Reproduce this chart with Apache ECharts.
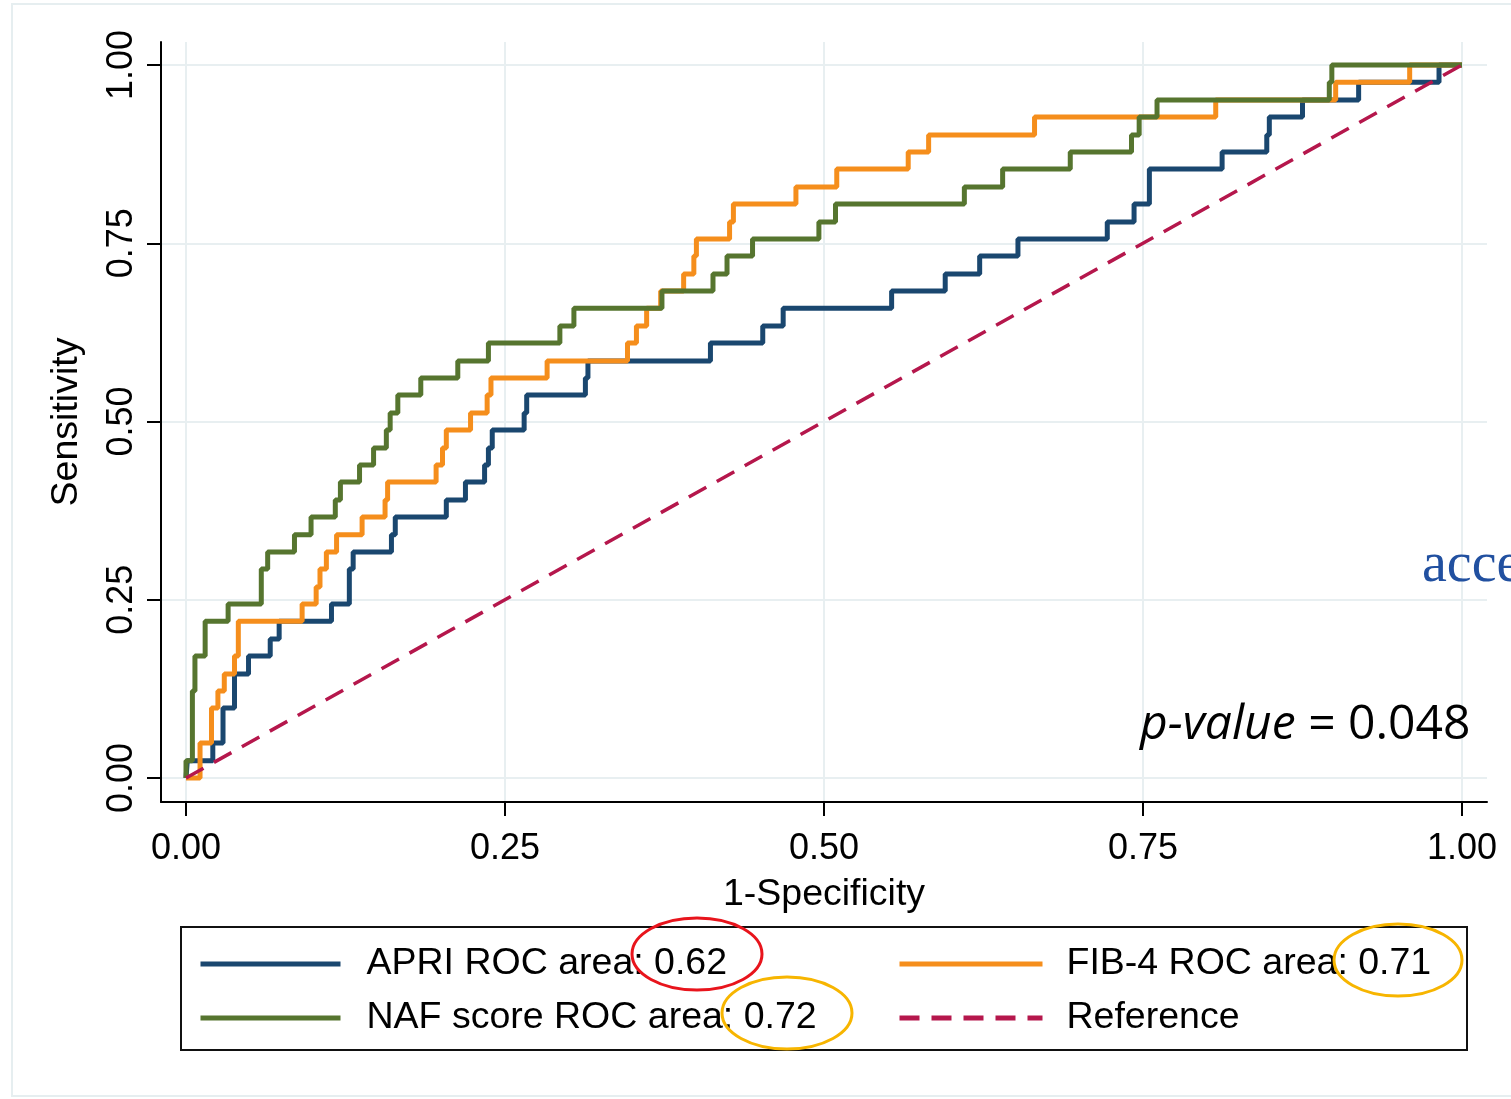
<!DOCTYPE html>
<html>
<head>
<meta charset="utf-8">
<title>ROC curves</title>
<script src="https://cdn.jsdelivr.net/npm/echarts@6/dist/echarts.min.js"></script>
<style>
  html, body { margin: 0; padding: 0; background: #fff; }
  #chart { width: 1511px; height: 1099px; }
</style>
</head>
<body>
<div id="chart"></div>
<script>
  // ROC points (1-specificity, sensitivity)
  const apriFpr = [0, 0.001, 0.021, 0.029, 0.038, 0.049, 0.066, 0.073, 0.114, 0.128, 0.131, 0.161, 0.164, 0.204, 0.219, 0.234, 0.237, 0.240, 0.265, 0.267, 0.313, 0.315, 0.411, 0.452, 0.468, 0.553, 0.595, 0.622, 0.652, 0.722, 0.743, 0.755, 0.812, 0.847, 0.849, 0.875, 0.919, 0.982, 1];
  const apriTpr = [0, 0.024, 0.049, 0.098, 0.146, 0.171, 0.195, 0.220, 0.244, 0.293, 0.317, 0.341, 0.366, 0.390, 0.415, 0.439, 0.463, 0.488, 0.512, 0.537, 0.561, 0.585, 0.610, 0.634, 0.659, 0.683, 0.707, 0.732, 0.756, 0.780, 0.805, 0.854, 0.878, 0.902, 0.927, 0.951, 0.976, 1, 1];

  const fib4Fpr = [0, 0.011, 0.020, 0.025, 0.030, 0.038, 0.041, 0.091, 0.102, 0.105, 0.110, 0.118, 0.138, 0.156, 0.158, 0.196, 0.201, 0.204, 0.223, 0.236, 0.239, 0.283, 0.346, 0.353, 0.361, 0.372, 0.390, 0.398, 0.400, 0.426, 0.429, 0.478, 0.510, 0.566, 0.582, 0.665, 0.807, 0.901, 0.959, 1];
  const fib4Tpr = [0, 0.049, 0.098, 0.122, 0.146, 0.171, 0.220, 0.244, 0.268, 0.293, 0.317, 0.341, 0.366, 0.390, 0.415, 0.439, 0.463, 0.488, 0.512, 0.537, 0.561, 0.585, 0.610, 0.634, 0.659, 0.683, 0.707, 0.732, 0.756, 0.780, 0.805, 0.829, 0.854, 0.878, 0.902, 0.927, 0.951, 0.976, 1, 1];

  const nafFpr = [0, 0, 0.005, 0.007, 0.015, 0.033, 0.059, 0.064, 0.085, 0.098, 0.117, 0.121, 0.136, 0.147, 0.157, 0.160, 0.166, 0.184, 0.213, 0.237, 0.293, 0.304, 0.373, 0.413, 0.424, 0.444, 0.496, 0.509, 0.610, 0.640, 0.693, 0.741, 0.747, 0.761, 0.896, 0.898, 1];
  const nafTpr = [0, 0.024, 0.122, 0.171, 0.220, 0.244, 0.293, 0.317, 0.341, 0.366, 0.390, 0.415, 0.439, 0.463, 0.488, 0.512, 0.537, 0.561, 0.585, 0.610, 0.634, 0.659, 0.683, 0.707, 0.732, 0.756, 0.780, 0.805, 0.829, 0.854, 0.878, 0.902, 0.927, 0.951, 0.976, 1, 1];

  const refX = [0, 1];
  const refY = [0, 1];

  const tickValues = [0, 0.25, 0.5, 0.75, 1];
  const seriesNames = ['APRI ROC area: 0.62', 'FIB-4 ROC area: 0.71', 'NAF score ROC area: 0.72', 'Reference'];

  function zip(xs, ys) {
    return xs.map((x, i) => [x, ys[i]]);
  }

  const font = 'Liberation Sans';
  const chart = echarts.init(document.getElementById('chart'));

  const legendBase = {
    orient: 'vertical',
    top: 944,
    padding: 0,
    itemHeight: 20,
    itemGap: 14,
    selectedMode: false,
    itemStyle: { opacity: 0 },
    lineStyle: { width: 5 },
    textStyle: { fontFamily: font, fontSize: 37.5, color: '#000', lineHeight: 40, padding: [0, 0, 0, 21] }
  };

  const option = {
    backgroundColor: '#fff',
    animation: false,
    grid: {
      left: 161,
      right: 24,
      top: 42,
      bottom: 297
    },
    xAxis: {
      type: 'value',
      min: -0.0196,
      max: 1.0196,
      name: '1-Specificity',
      nameLocation: 'middle',
      nameGap: 74,
      nameTextStyle: { fontFamily: font, fontSize: 37.5, color: '#000' },
      axisLine: { onZero: false, lineStyle: { color: '#000', width: 2 } },
      axisTick: { customValues: tickValues, length: 14, lineStyle: { color: '#000', width: 2 } },
      axisLabel: {
        customValues: tickValues,
        margin: 29,
        fontFamily: font,
        fontSize: 36,
        color: '#000',
        formatter: v => v.toFixed(2)
      },
      splitLine: { show: true, lineStyle: { color: '#e8eff1', width: 2 } }
    },
    yAxis: {
      type: 'value',
      min: -0.0337,
      max: 1.0323,
      name: 'Sensitivity',
      nameLocation: 'middle',
      nameGap: 75,
      nameTextStyle: { fontFamily: font, fontSize: 37.5, color: '#000' },
      axisLine: { show: true, onZero: false, lineStyle: { color: '#000', width: 2 } },
      axisTick: { show: true, customValues: tickValues, length: 14, lineStyle: { color: '#000', width: 2 } },
      axisLabel: {
        customValues: tickValues,
        rotate: 90,
        margin: 21,
        fontFamily: font,
        fontSize: 36,
        color: '#000',
        formatter: v => v.toFixed(2)
      },
      splitLine: { show: true, lineStyle: { color: '#e8eff1', width: 2 } }
    },
    legend: [
      Object.assign({}, legendBase, {
        data: [seriesNames[0], seriesNames[2]],
        left: 198,
        itemWidth: 140
      }),
      Object.assign({}, legendBase, {
        data: [seriesNames[1], seriesNames[3]],
        left: 897,
        itemWidth: 143,
        textStyle: Object.assign({}, legendBase.textStyle, { padding: [0, 0, 0, 19] })
      })
    ],
    series: [
      {
        name: seriesNames[0],
        type: 'line',
        step: 'end',
        symbol: 'none',
        data: zip(apriFpr, apriTpr),
        lineStyle: { color: '#1a476f', width: 5 },
        itemStyle: { color: '#1a476f' },
        z: 2
      },
      {
        name: seriesNames[1],
        type: 'line',
        step: 'end',
        symbol: 'none',
        data: zip(fib4Fpr, fib4Tpr),
        lineStyle: { color: '#f58e1c', width: 5 },
        itemStyle: { color: '#f58e1c' },
        z: 3
      },
      {
        name: seriesNames[2],
        type: 'line',
        step: 'end',
        symbol: 'none',
        data: zip(nafFpr, nafTpr),
        lineStyle: { color: '#56752f', width: 5 },
        itemStyle: { color: '#56752f' },
        z: 4
      },
      {
        name: seriesNames[3],
        type: 'line',
        symbol: 'none',
        data: zip(refX, refY),
        lineStyle: { color: '#b5174c', width: 3.5, type: [20, 12] },
        itemStyle: { color: '#b5174c' },
        z: 5
      }
    ],
    graphic: [
      {
        type: 'rect',
        shape: { x: 12, y: 4, width: 1520, height: 1092 },
        style: { fill: null, stroke: '#e6eef0', lineWidth: 2 },
        silent: true,
        z: -1
      },
      {
        type: 'rect',
        shape: { x: 181, y: 927, width: 1286, height: 123 },
        style: { fill: null, stroke: '#111', lineWidth: 2 },
        silent: true
      },
      {
        type: 'text',
        x: 1140,
        y: 725,
        style: {
          text: '{i|p-value} = 0.048',
          fontFamily: 'Open Sans',
          fontSize: 48,
          fill: '#000',
          verticalAlign: 'middle',
          rich: { i: { fontFamily: 'Open Sans', fontSize: 48, fontStyle: 'italic', fill: '#000' } }
        },
        z: 10
      },
      {
        type: 'text',
        x: 1422,
        y: 566,
        style: {
          text: 'acce',
          fontFamily: 'Liberation Serif',
          fontSize: 56,
          fill: '#2150a0',
          verticalAlign: 'middle'
        },
        z: 10
      },
      {
        type: 'ellipse',
        shape: { cx: 697, cy: 954, rx: 65, ry: 36 },
        style: { fill: null, stroke: '#e8141c', lineWidth: 3 },
        z: 20
      },
      {
        type: 'ellipse',
        shape: { cx: 1398, cy: 960, rx: 64, ry: 36 },
        style: { fill: null, stroke: '#f7b500', lineWidth: 3 },
        z: 20
      },
      {
        type: 'ellipse',
        shape: { cx: 787, cy: 1013, rx: 65, ry: 36 },
        style: { fill: null, stroke: '#f7b500', lineWidth: 3 },
        z: 20
      }
    ]
  };

  chart.setOption(option);
  window.addEventListener('resize', function () {
    chart.resize();
  });
</script>
</body>
</html>
